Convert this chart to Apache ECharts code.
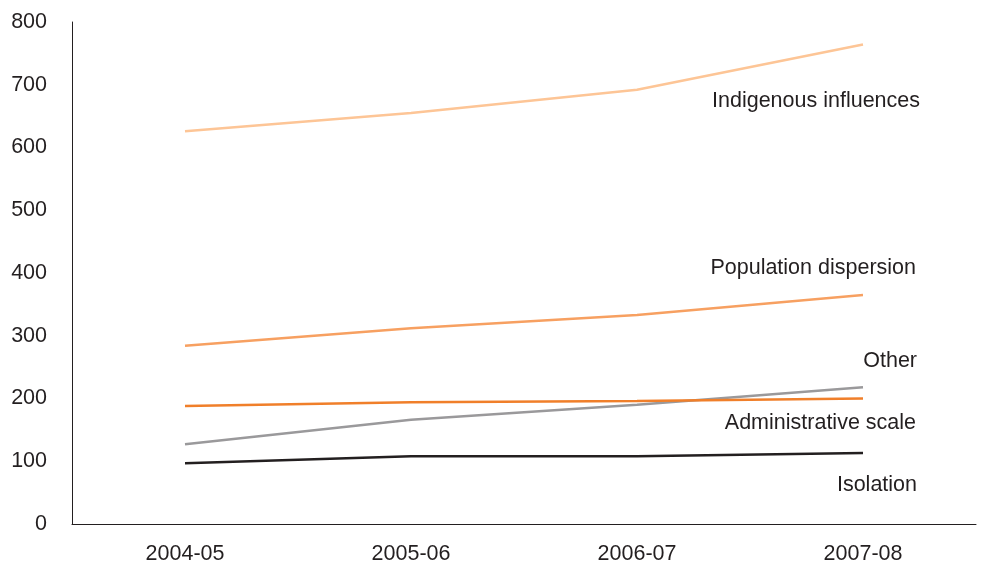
<!DOCTYPE html>
<html>
<head>
<meta charset="utf-8">
<script src="https://cdn.jsdelivr.net/npm/echarts@6/dist/echarts.min.js"></script>
<style>html,body{margin:0;padding:0;background:#fff}#c{width:981px;height:566px}</style>
</head>
<body>
<div id="c"></div>
<script>
var categories = ['2004-05', '2005-06', '2006-07', '2007-08'];
var yTicks = [0, 100, 200, 300, 400, 500, 600, 700, 800];
var indigenous = [626, 655, 692, 764];
var population = [284, 312, 333, 365];
var administrative = [188, 194, 196, 200];
var other = [127, 166, 190, 218];
var isolation = [97, 108, 108, 113];

var seriesDefs = [
  {name: 'Indigenous influences', data: indigenous, color: '#FDC596', dy: 56, dx: 49},
  {name: 'Population dispersion', data: population, color: '#F7A061', dy: -27, dx: 45},
  {name: 'Other', data: other, color: '#9A999B', dy: -26, dx: 46},
  {name: 'Administrative scale', data: administrative, color: '#F07F2A', dy: 25, dx: 45},
  {name: 'Isolation', data: isolation, color: '#231F20', dy: 32, dx: 46}
];

var chart = echarts.init(document.getElementById('c'));
chart.setOption({
  animation: false,
  textStyle: {fontFamily: 'Liberation Sans, Arial, sans-serif'},
  grid: {left: 72, right: 5, top: 22, bottom: 42, containLabel: false},
  xAxis: {
    type: 'category',
    data: categories,
    boundaryGap: true,
    axisLine: {lineStyle: {color: '#231F20', width: 1}},
    axisTick: {show: false},
    axisLabel: {color: '#231F20', fontSize: 21.5, margin: 19}
  },
  yAxis: {
    type: 'value',
    min: yTicks[0],
    max: yTicks[yTicks.length - 1],
    interval: 100,
    axisLine: {show: true, lineStyle: {color: '#231F20', width: 1}},
    axisTick: {show: false},
    splitLine: {show: false},
    axisLabel: {color: '#231F20', fontSize: 21.5, margin: 25}
  },
  series: seriesDefs.map(function (s) {
    return {
      name: s.name,
      type: 'line',
      data: s.data,
      symbol: 'none',
      lineStyle: {color: s.color, width: 2.5},
      itemStyle: {color: s.color},
      endLabel: {
        show: true,
        formatter: '{a}',
        color: '#231F20',
        fontSize: 21.5,
        align: 'right',
        verticalAlign: 'middle',
        offset: [s.dx, s.dy]
      }
    };
  })
});
</script>
</body>
</html>
